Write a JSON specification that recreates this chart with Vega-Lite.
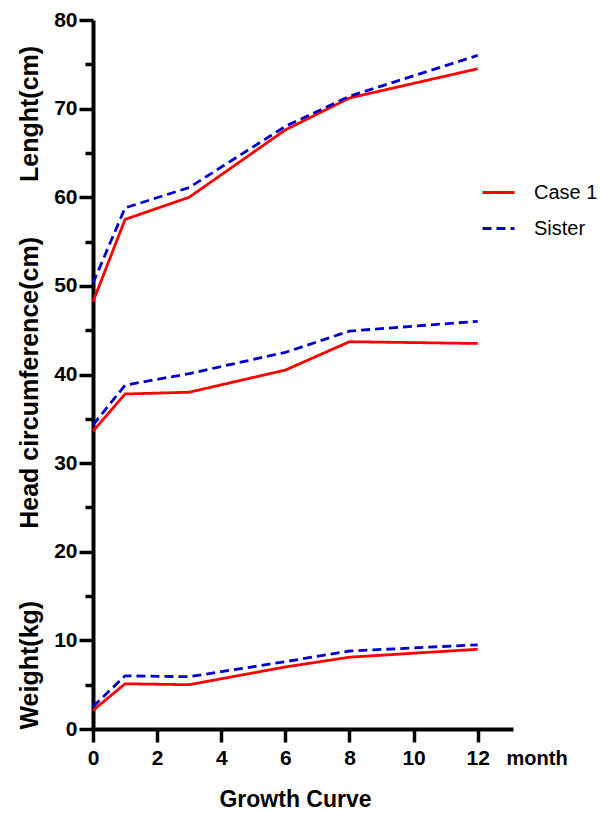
{
  "$schema": "https://vega.github.io/schema/vega-lite/v6.json",
  "autosize": {"type": "none"},
  "padding": {"left": 93, "top": 20, "right": 89, "bottom": 84},
  "width": 420,
  "height": 709,
  "background": "white",
  "config": {
    "view": {"stroke": null},
    "font": "Liberation Sans",
    "axis": {
      "grid": false,
      "domainColor": "black",
      "domainWidth": 4,
      "tickColor": "black",
      "tickWidth": 3.5,
      "labelFont": "Liberation Sans",
      "labelFontWeight": "bold",
      "labelFontSize": 21,
      "labelColor": "black",
      "titleFont": "Liberation Sans",
      "titleColor": "black"
    }
  },
  "layer": [
    {
      "data": {
        "values": [
          {"month": 0, "measure": "Length", "group": "Case 1", "value": 48.2},
          {"month": 1, "measure": "Length", "group": "Case 1", "value": 57.5},
          {"month": 3, "measure": "Length", "group": "Case 1", "value": 60.0},
          {"month": 6, "measure": "Length", "group": "Case 1", "value": 67.6},
          {"month": 8, "measure": "Length", "group": "Case 1", "value": 71.2},
          {"month": 12, "measure": "Length", "group": "Case 1", "value": 74.5},
          {"month": 0, "measure": "Length", "group": "Sister", "value": 50.3},
          {"month": 1, "measure": "Length", "group": "Sister", "value": 58.8},
          {"month": 3, "measure": "Length", "group": "Sister", "value": 61.1},
          {"month": 6, "measure": "Length", "group": "Sister", "value": 68.0},
          {"month": 8, "measure": "Length", "group": "Sister", "value": 71.4},
          {"month": 12, "measure": "Length", "group": "Sister", "value": 76.0},
          {"month": 0, "measure": "Head", "group": "Case 1", "value": 33.6},
          {"month": 1, "measure": "Head", "group": "Case 1", "value": 37.8},
          {"month": 3, "measure": "Head", "group": "Case 1", "value": 38.0},
          {"month": 6, "measure": "Head", "group": "Case 1", "value": 40.5},
          {"month": 8, "measure": "Head", "group": "Case 1", "value": 43.7},
          {"month": 12, "measure": "Head", "group": "Case 1", "value": 43.5},
          {"month": 0, "measure": "Head", "group": "Sister", "value": 34.3},
          {"month": 1, "measure": "Head", "group": "Sister", "value": 38.8},
          {"month": 3, "measure": "Head", "group": "Sister", "value": 40.1},
          {"month": 6, "measure": "Head", "group": "Sister", "value": 42.5},
          {"month": 8, "measure": "Head", "group": "Sister", "value": 44.9},
          {"month": 12, "measure": "Head", "group": "Sister", "value": 46.0},
          {"month": 0, "measure": "Weight", "group": "Case 1", "value": 2.1},
          {"month": 1, "measure": "Weight", "group": "Case 1", "value": 5.1},
          {"month": 3, "measure": "Weight", "group": "Case 1", "value": 5.0},
          {"month": 6, "measure": "Weight", "group": "Case 1", "value": 7.0},
          {"month": 8, "measure": "Weight", "group": "Case 1", "value": 8.1},
          {"month": 12, "measure": "Weight", "group": "Case 1", "value": 9.0},
          {"month": 0, "measure": "Weight", "group": "Sister", "value": 2.5},
          {"month": 1, "measure": "Weight", "group": "Sister", "value": 6.0},
          {"month": 3, "measure": "Weight", "group": "Sister", "value": 5.9},
          {"month": 6, "measure": "Weight", "group": "Sister", "value": 7.6},
          {"month": 8, "measure": "Weight", "group": "Sister", "value": 8.8},
          {"month": 12, "measure": "Weight", "group": "Sister", "value": 9.5}
        ]
      },
      "mark": {"type": "line", "strokeWidth": 2.8},
      "encoding": {
        "x": {
          "field": "month", "type": "quantitative",
          "scale": {"domain": [0, 13.1], "nice": false, "zero": false},
          "axis": {
            "values": [0, 2, 4, 6, 8, 10, 12],
            "tickSize": 13,
            "labelPadding": 5,
            "labelFlush": false,
            "labelOverlap": false,
            "title": "Growth Curve",
            "titleFontSize": 23,
            "titleFontWeight": "bold",
            "titleX": 202,
            "titleY": 70,
            "titleBaseline": "middle"
          }
        },
        "y": {
          "field": "value", "type": "quantitative",
          "scale": {"domain": [0, 80], "nice": false},
          "axis": {
            "values": [0, 5, 10, 15, 20, 25, 30, 35, 40, 45, 50, 55, 60, 65, 70, 75, 80],
            "labelExpr": "datum.value % 10 === 0 ? datum.label : ''",
            "tickSize": {"condition": {"test": "datum.value % 10 === 0", "value": 14}, "value": 8},
            "labelPadding": 2,
            "labelFlush": false,
            "labelOverlap": false,
            "title": null
          }
        },
        "detail": {"field": "measure"},
        "color": {
          "field": "group", "type": "nominal",
          "scale": {"domain": ["Case 1", "Sister"], "range": ["#ff0000", "#0000cc"]},
          "legend": {
            "title": null,
            "orient": "none",
            "legendX": 388,
            "legendY": 155,
            "symbolType": "stroke",
            "symbolSize": 1024,
            "symbolStrokeWidth": 2.8,
            "labelFont": "Liberation Sans",
            "labelFontSize": 20,
            "labelColor": "black",
            "labelOffset": 18,
            "rowPadding": 8,
            "padding": 0
          }
        },
        "strokeDash": {
          "field": "group", "type": "nominal",
          "scale": {"domain": ["Case 1", "Sister"], "range": [[1, 0], [9, 5]]},
          "legend": null
        }
      }
    },
    {
      "data": {
        "values": [
          {"label": "Lenght(cm)", "x": -1.95, "y": 69.4},
          {"label": "Head circumference(cm)", "x": -1.95, "y": 39.05},
          {"label": "Weight(kg)", "x": -1.95, "y": 7.2}
        ]
      },
      "mark": {"type": "text", "angle": 270, "fontSize": 25, "fontWeight": "bold", "font": "Liberation Sans", "color": "black", "align": "center", "baseline": "middle"},
      "encoding": {
        "x": {"field": "x", "type": "quantitative"},
        "y": {"field": "y", "type": "quantitative"},
        "text": {"field": "label"}
      }
    },
    {
      "data": {"values": [{"label": "month", "x": 13.85, "y": -3.4}]},
      "mark": {"type": "text", "fontSize": 20, "fontWeight": "bold", "font": "Liberation Sans", "color": "black", "align": "center", "baseline": "middle"},
      "encoding": {
        "x": {"field": "x", "type": "quantitative"},
        "y": {"field": "y", "type": "quantitative"},
        "text": {"field": "label"}
      }
    }
  ]
}
